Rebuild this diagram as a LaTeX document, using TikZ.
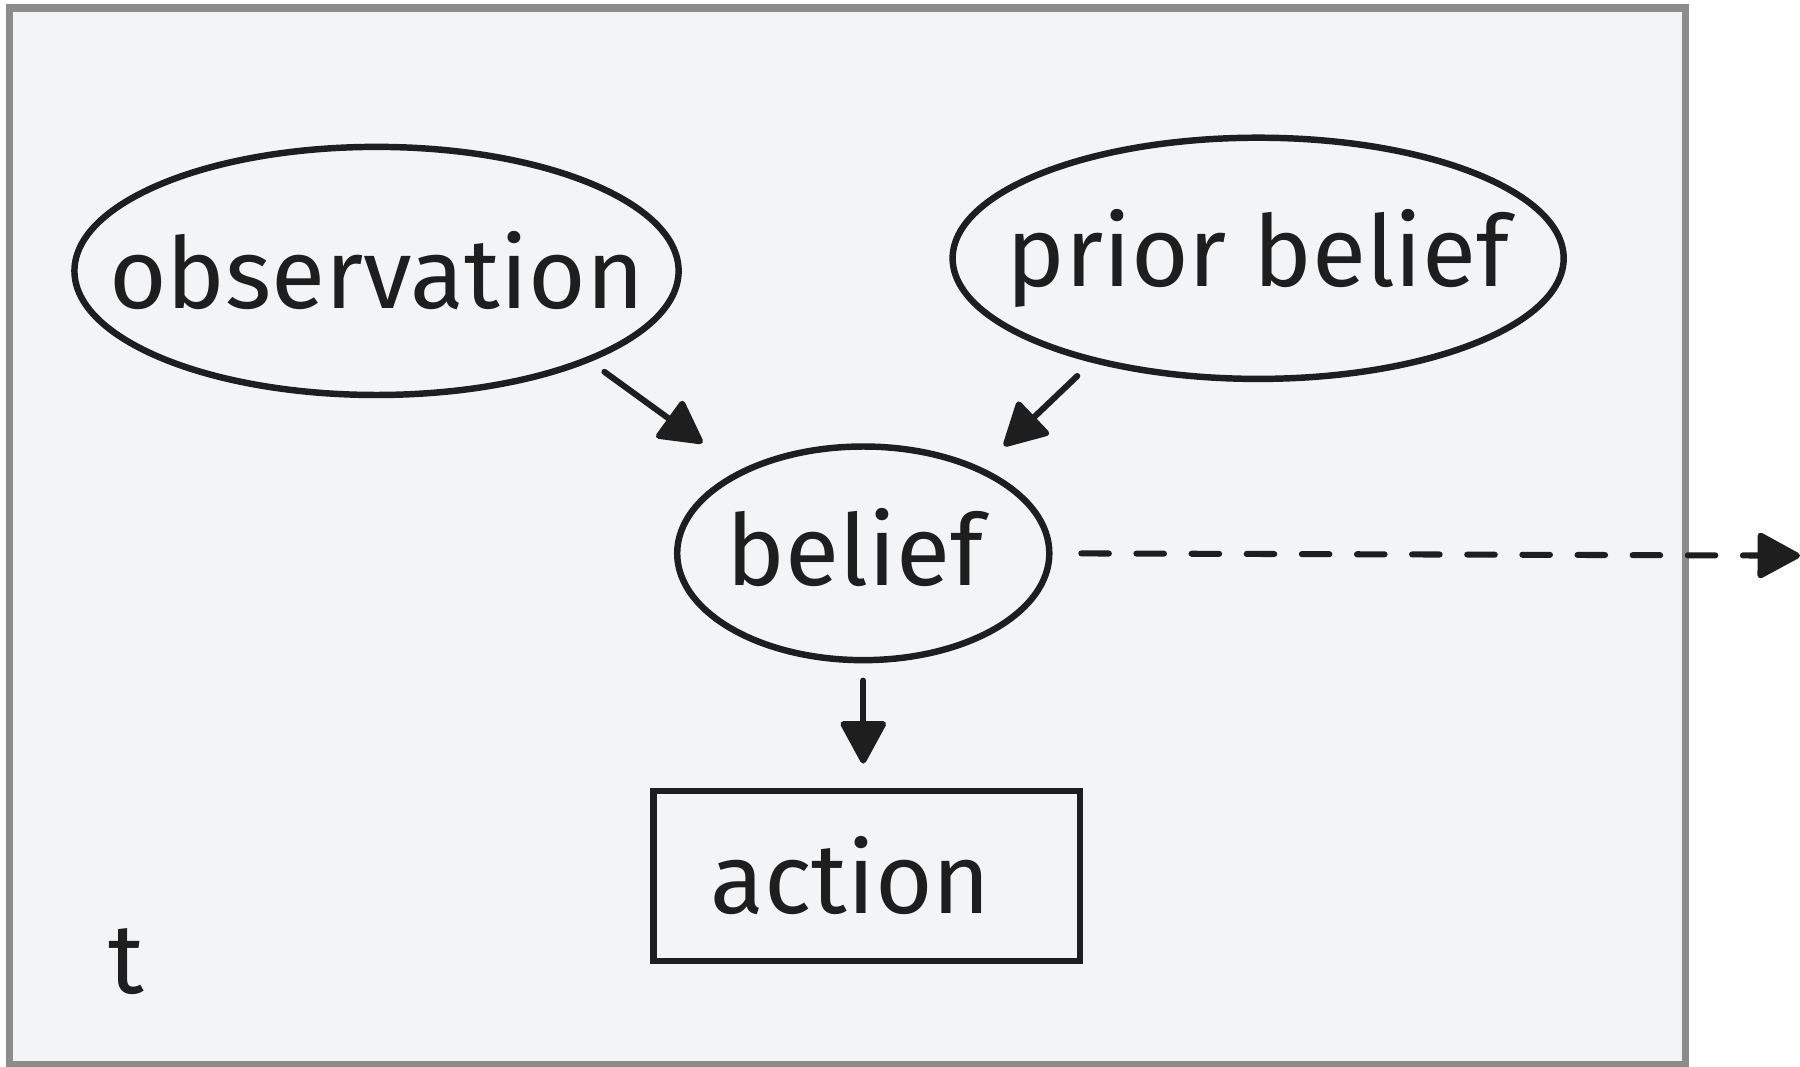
\documentclass[tikz,border=0pt]{standalone}
\usepackage{fontspec}
\setmainfont{Fira Sans}
\usetikzlibrary{arrows.meta, shapes.geometric}
\definecolor{ink}{HTML}{1E1E1E}
\definecolor{paper}{HTML}{F3F4F6}
\definecolor{rim}{HTML}{8C8C8C}

\begin{document}
\begin{tikzpicture}[x=0.01cm, y=-0.01cm]
    \tikzstyle{every node} = [text=ink, font=\fontsize{24.5}{28}\selectfont]
    \tikzstyle{blob} = [ellipse, draw=ink, line width=1.6pt, inner sep=0pt]
    \tikzstyle{arr} = [draw=ink, line width=1.5pt, line cap=round, -{Triangle[round, length=0.4cm, width=0.42cm]}]
    \useasboundingbox (0, 0) rectangle (1568, 929);
    \draw [rim, fill=paper, line width=1.8pt] (8, 7) rectangle (1468, 927);
    \node [blob, minimum width=5.26cm, minimum height=2.16cm, label={center:observation}] (obs) at (328, 236) {};
    \node [blob, minimum width=5.32cm, minimum height=2.10cm, label={center:prior belief}] (prior) at (1096, 225) {};
    \node [blob, minimum width=3.24cm, minimum height=1.86cm, label={[xshift=-0.07cm, yshift=0.05cm]center:belief}] (belief) at (752, 482) {};
    \node [draw=ink, line width=1.6pt, minimum width=3.71cm, minimum height=1.48cm, label={[xshift=-0.14cm]center:action}] (action) at (755, 763) {};
    \node (tlabel) at (110, 838) {t};
    \coordinate (next) at (1568, 484);
    \draw [arr, shorten <=0.15cm, shorten >=0.4cm] (obs.-23.8) -- (belief.146.7);
    \draw [arr, shorten <=0.17cm, shorten >=0.27cm] (prior.212.1) -- (belief.36.6);
    \draw [arr, shorten <=0.15cm, shorten >=0.21cm] (belief.south) -- (belief.south |- action.north);
    \draw [arr, dash pattern=on 0.24cm off 0.24cm, shorten <=0.25cm] (belief.east) -- (next);
\end{tikzpicture}
\end{document}
